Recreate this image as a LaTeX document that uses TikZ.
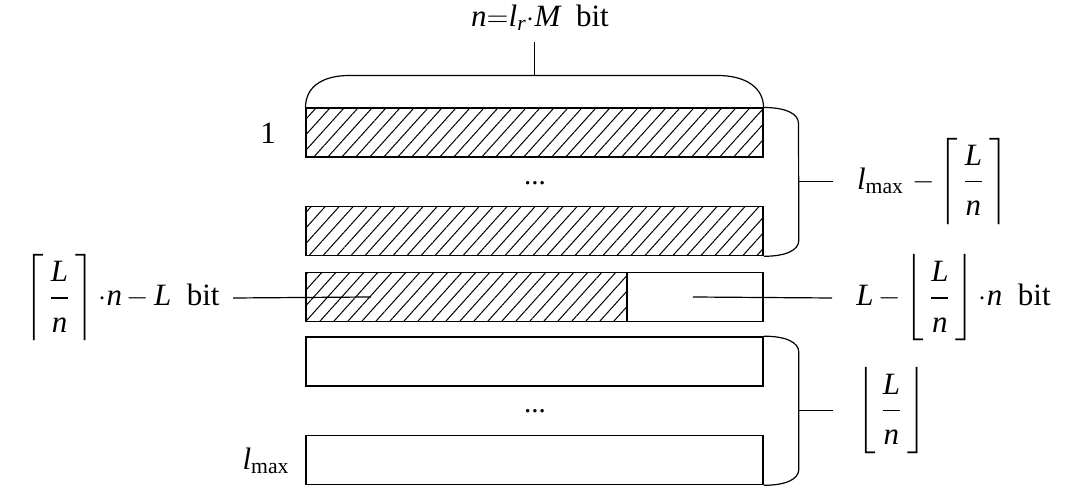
\documentclass[tikz,border=0pt]{standalone}
\usepackage{amsmath}
\usepackage{fontspec}
\setmainfont{Liberation Serif}
\usetikzlibrary{positioning,calc,patterns.meta}
\newcommand{\vi}[1]{\text{\itshape #1}}
\newcommand{\Ln}{\,\dfrac{\rule{0pt}{12pt}\vi{L}\rule[-6pt]{0pt}{0pt}}{\rule{0pt}{15pt}\vi{n}\rule[-4pt]{0pt}{0pt}}\,}

\begin{document}
\begin{tikzpicture}[
	x=0.5pt, y=-0.5pt,
	font=\fontsize{15.5}{18}\selectfont,
	row/.style={
		draw,
		line width=0.8pt,
		minimum width=228.5pt,
		minimum height=24.5pt,
		inner sep=0pt,
		fill=white,
	},
	hatched/.style={
		row,
		pattern={Lines[angle=48,distance=5.2pt,line width=0.5pt]},
	},
	brace/.style={line width=0.6pt},
	lead/.style={line width=0.6pt},
	tag/.style={inner sep=1pt},
]
\useasboundingbox (0,0) rectangle (1080,490);

% --- Zeilen ---
\node[hatched] (row1) at (534.5,132.5) {};
\node[hatched] (row2) at (534.5,231) {};
\node[row] (row3) at (534.5,297) {};
\node[hatched, minimum width=160.5pt, anchor=west] (row3part) at (row3.west) {};
\node[row] (row4) at (534.5,361.5) {};
\node[row] (row5) at (534.5,460) {};

\node[tag, font=\fontsize{14.5}{17}\selectfont] (dots1) at (535,183) {...};
\node[tag, font=\fontsize{14.5}{17}\selectfont] (dots2) at (535,411) {...};

% --- Zeilennummern ---
\node[tag] (num1) at (268,133) {1};
\node[tag] (nummax) at (266,461) {$\vi{l}_{\text{max}}$};

% --- obere Klammer ---
\draw[brace] (row1.north west) .. controls +(0,-20) and +(-28,0) .. ++(44,-32)
	-- ($(row1.north east)+(-46,-32)$) .. controls +(28,0) and +(0,-20) .. (row1.north east);
\coordinate (ttop) at ($(row1.north)+(0,-32)$);
\node[tag] (toplbl) at (540,18)
	{$\vi{n}{=}\vi{l}_{\vi{r}}{\cdot}\vi{M}$~~bit};
\draw[lead] (ttop) -- ++(0,-33);

% --- rechte Klammern ---
\draw[brace] (row1.north east) .. controls +(22,0) and +(0,-10) .. ++(35,16)
	-- ($(row2.south east)+(35,-16)$) .. controls +(0,10) and +(22,0) .. (row2.south east);
\coordinate (b1) at ($(row1.north east)!0.5!(row2.south east)+(35,0)$);
\node[tag, inner xsep=12pt, anchor=west] (lbl1) at ($(b1)+(34,0)$)
	{$\vi{l}_{\text{max}}\;{-}\left\lceil\Ln\right\rceil$};
\draw[lead] (b1) -- (lbl1.west);

\draw[brace] (row4.north east) .. controls +(22,0) and +(0,-10) .. ++(35,16)
	-- ($(row5.south east)+(35,-16)$) .. controls +(0,10) and +(22,0) .. (row5.south east);
\coordinate (b2) at ($(row4.north east)!0.5!(row5.south east)+(35,0)$);
\node[tag, inner xsep=12pt, anchor=west] (lbl2) at ($(b2)+(34,0)$)
	{$\left\lfloor\Ln\right\rfloor$};
\draw[lead] (b2) -- (lbl2.west);

% --- Rest der letzten Zeile ---
\coordinate (in3l) at ($(row3.west)+(66,0)$);
\coordinate (in3r) at ($(row3.east)+(-71,0)$);
\node[tag, inner xsep=6.5pt, anchor=east] (lbl3l) at (233,298)
	{$\left\lceil\Ln\right\rceil{\cdot}\vi{n}\,{-}\,\vi{L}$~~bit};
\node[tag, inner xsep=12pt, anchor=west] (lbl3r) at (832,298)
	{$\vi{L}\,{-}\left\lfloor\Ln\right\rfloor{\cdot}\vi{n}$~~bit};
\draw[lead] (lbl3l.east) -- (in3l);
\draw[lead] (in3r) -- (lbl3r.west);

\end{tikzpicture}
\end{document}
